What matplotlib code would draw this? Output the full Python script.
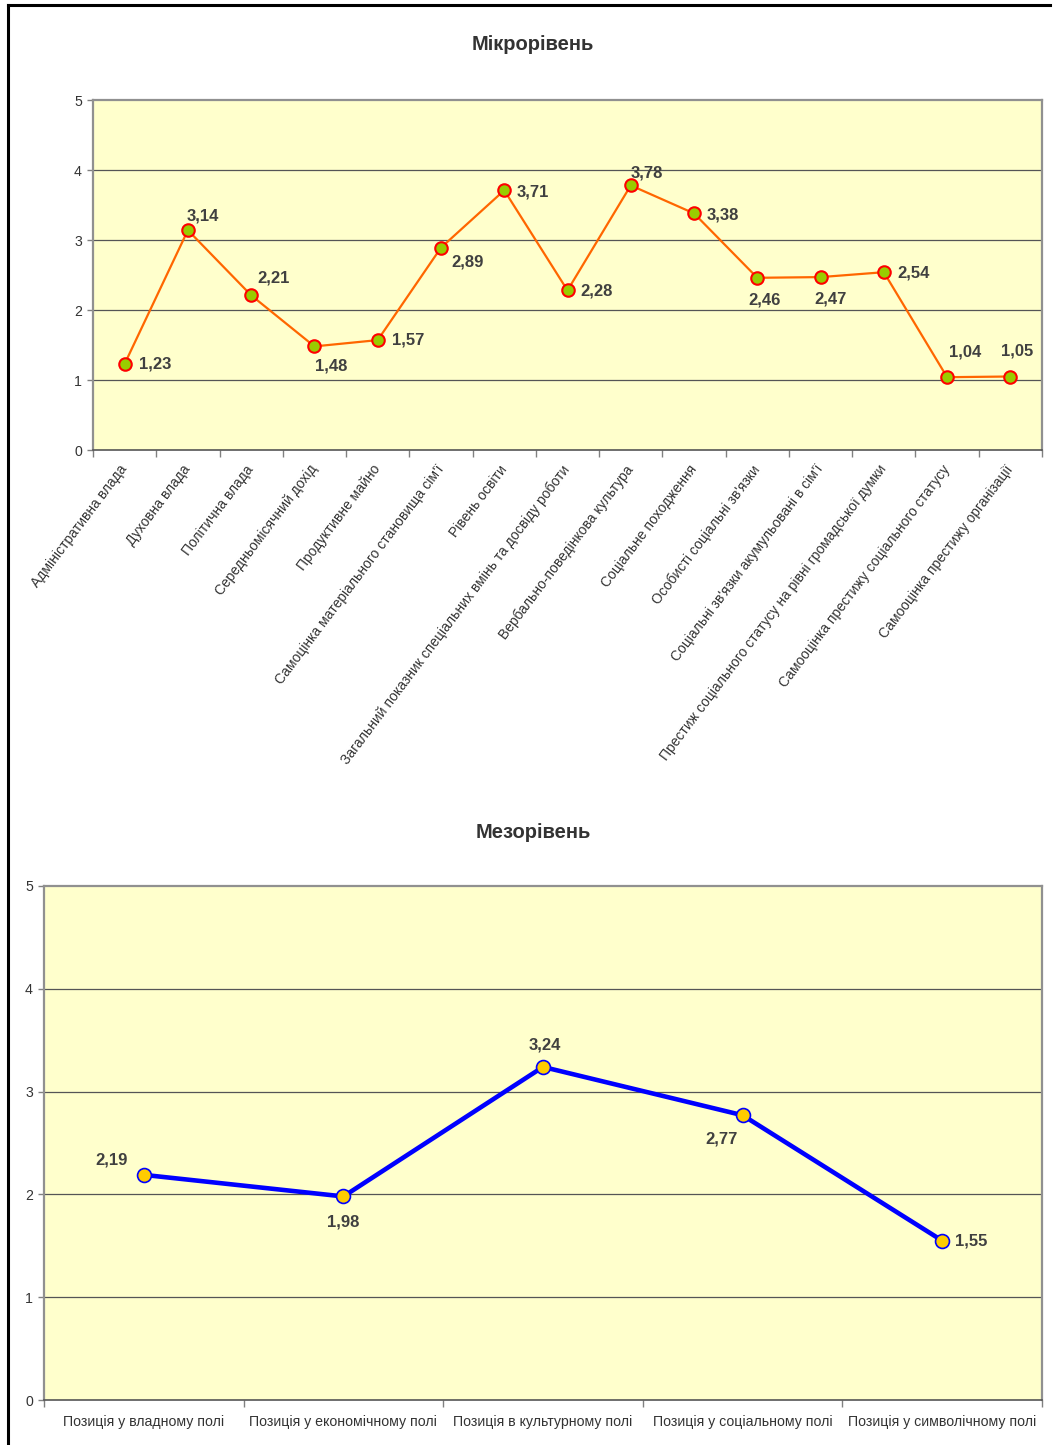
import matplotlib
matplotlib.use("Agg")
import numpy as np
import matplotlib.pyplot as plt
from matplotlib.lines import Line2D

plt.rcParams['font.family'] = ['Liberation Sans', 'DejaVu Sans']

# ---- data ----
micro_title = 'Мікрорівень'
micro_cats = ['Адміністративна влада', 'Духовна влада', 'Політична влада',
              'Середньомісячний дохід', 'Продуктивне майно',
              "Самоцінка матеріального становища сім'ї", 'Рівень освіти',
              'Загальний показник спеціальних вмінь та досвіду роботи',
              'Вербально-поведінкова культура', 'Соціальне походження',
              "Особисті соціальні зв'язки", "Соціальні зв'язки акумульовані в сім'ї",
              'Престиж соціального статусу на рівні громадської думки',
              'Самооцінка престижу соціального статусу', 'Самооцінка престижу організації']
micro_vals = [1.23, 3.14, 2.21, 1.48, 1.57, 2.89, 3.71, 2.28, 3.78, 3.38, 2.46, 2.47, 2.54, 1.04, 1.05]
micro_lbl_off = [(31, 0), (15, 14), (22, 17), (17, -20), (30, 0), (27, -14), (29, -2), (29, -1),
                 (16, 12), (29, -2), (7, -22), (10, -22), (30, -1), (18, 25), (7, 25)]

meso_title = 'Мезорівень'
meso_cats = ['Позиція у владному полі', 'Позиція у економічному полі', 'Позиція в культурному полі',
             'Позиція у соціальному полі', 'Позиція у символічному полі']
meso_vals = [2.19, 1.98, 3.24, 2.77, 1.55]
meso_lbl_off = [(-32, 15), (0, -26), (2, 22), (-21, -24), (29, 0)]

W, H = 1054, 1445
fig = plt.figure(figsize=(W / 100, H / 100), dpi=100)
fig.patch.set_facecolor('white')

# page border (left + top)
fig.add_artist(Line2D([8 / W, 8 / W], [0, 1 - 5 / H], color='black', lw=2.2))
fig.add_artist(Line2D([8 / W, 1050 / W], [1 - 5 / H, 1 - 5 / H], color='black', lw=2.2))

txt_col = '#333333'


def fmt(v):
    return ('%.2f' % v).replace('.', ',')


def style_axes(ax, n):
    ax.set_facecolor('#FFFFCC')
    ax.set_xlim(0, n)
    ax.set_ylim(0, 5)
    ax.set_yticks(range(0, 6))
    ax.tick_params(axis='y', direction='out', length=4, width=1, color='#808080',
                   labelsize=10.2, labelcolor=txt_col, pad=4)
    for y in range(1, 5):
        ax.axhline(y, color='#555555', lw=0.9, zorder=1)
    for s in ['top', 'left', 'right']:
        ax.spines[s].set_color('#909090')
        ax.spines[s].set_linewidth(1.6)
    ax.spines['bottom'].set_color('#555555')
    ax.spines['bottom'].set_linewidth(1.2)
    ax.set_xticks(np.arange(0, n + 1), minor=True)
    ax.set_xticks(np.arange(n) + 0.5)
    ax.tick_params(axis='x', which='minor', direction='out', length=5, width=1, color='#808080')
    ax.tick_params(axis='x', which='major', length=0)


# ---- micro chart ----
ax1 = fig.add_axes([93 / W, 1 - 450 / H, (1042 - 93) / W, 350 / H])
style_axes(ax1, len(micro_cats))
x1 = np.arange(len(micro_cats)) + 0.5
ax1.plot(x1, micro_vals, color='#FF6600', lw=1.6, zorder=3,
         marker='o', markersize=9, markerfacecolor='#99CC00',
         markeredgecolor='#FF0000', markeredgewidth=1.5)
for xi, v, off in zip(x1, micro_vals, micro_lbl_off):
    ax1.annotate(fmt(v), (xi, v), xytext=off, textcoords='offset pixels',
                 ha='center', va='center', fontsize=12, fontweight='bold', color='#404040', zorder=4)
ax1.set_xticklabels(micro_cats, rotation=53, rotation_mode='anchor', ha='right', va='center',
                    fontsize=10, color=txt_col)
ax1.tick_params(axis='x', which='major', pad=12)
fig.text(533 / W, 1 - 45 / H, micro_title, ha='center', va='center',
         fontsize=14.5, fontweight='bold', color=txt_col)

# ---- meso chart ----
ax2 = fig.add_axes([44 / W, 1 - 1400 / H, (1042 - 44) / W, 514 / H])
style_axes(ax2, len(meso_cats))
x2 = np.arange(len(meso_cats)) + 0.5
ax2.plot(x2, meso_vals, color='#0000FF', lw=3.3, zorder=3,
         marker='o', markersize=10, markerfacecolor='#FFCC00',
         markeredgecolor='#0000FF', markeredgewidth=1.2)
for xi, v, off in zip(x2, meso_vals, meso_lbl_off):
    ax2.annotate(fmt(v), (xi, v), xytext=off, textcoords='offset pixels',
                 ha='center', va='center', fontsize=12, fontweight='bold', color='#404040', zorder=4)
ax2.set_xticklabels(meso_cats, fontsize=10.2, color=txt_col)
ax2.tick_params(axis='x', which='major', pad=11)
fig.text(533 / W, 1 - 833 / H, meso_title, ha='center', va='center',
         fontsize=14.5, fontweight='bold', color=txt_col)

fig.savefig('out.png', dpi=100)
